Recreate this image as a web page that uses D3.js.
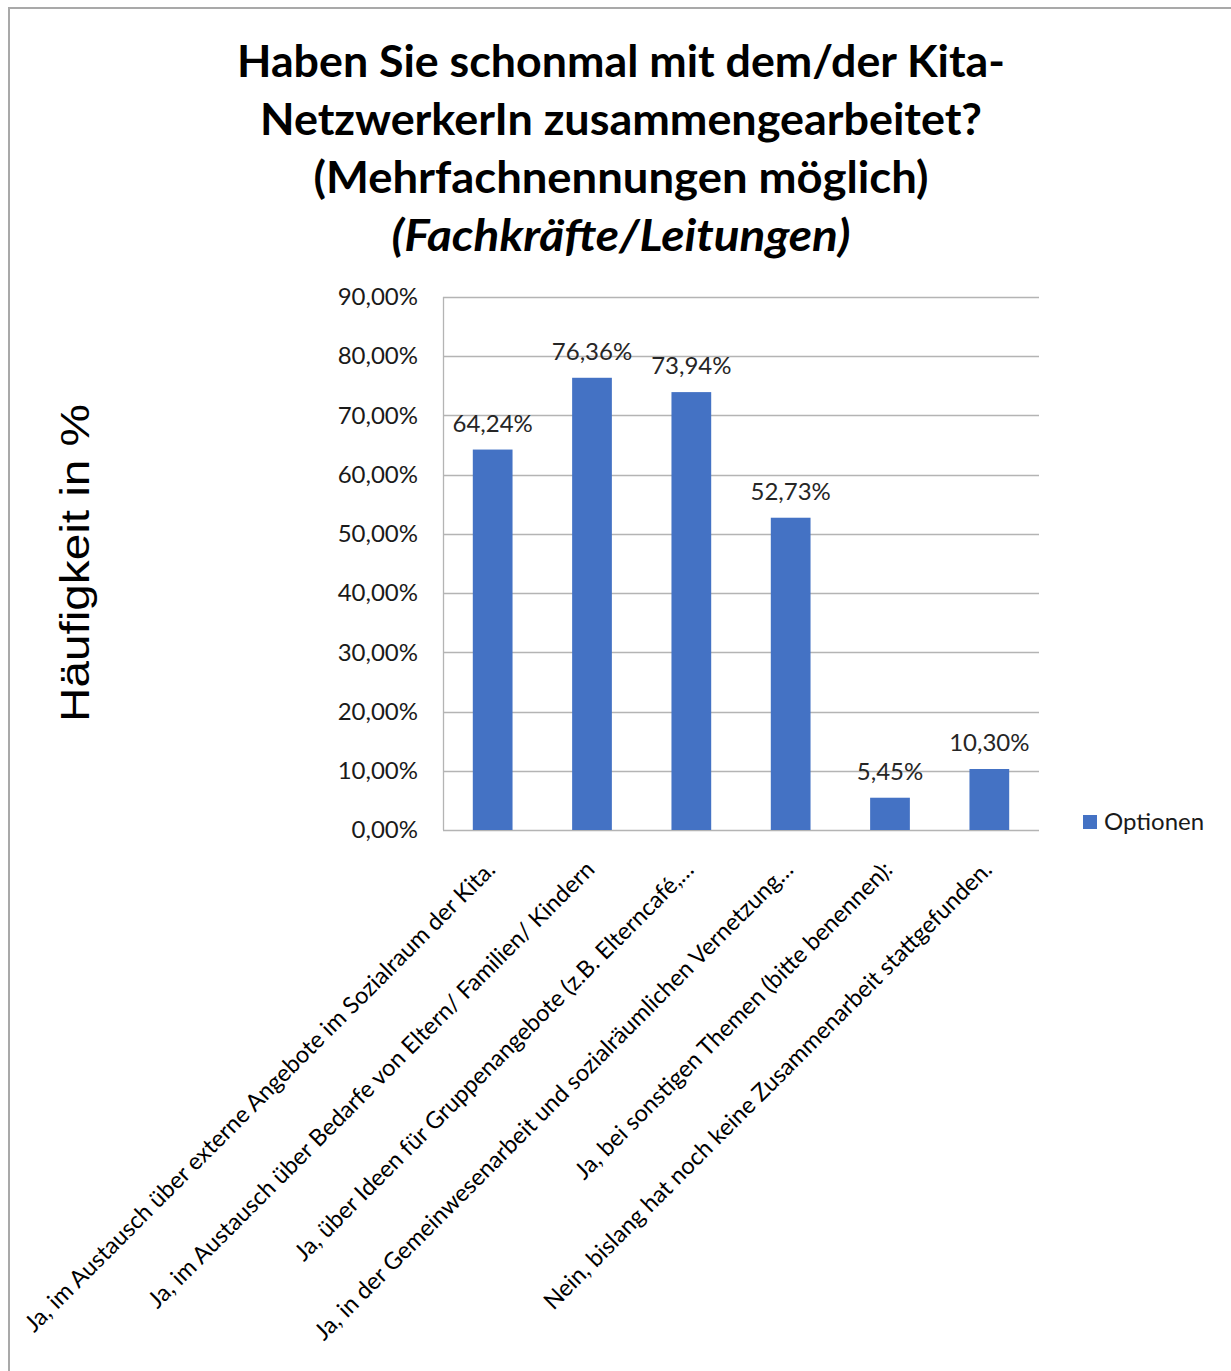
<!DOCTYPE html>
<html>
<head>
<meta charset="utf-8">
<script src="https://cdn.jsdelivr.net/npm/d3@7"></script>
<style>
  html, body { margin: 0; padding: 0; background: #fff; }
  svg { display: block; }
</style>
</head>
<body>
<div id="chart"></div>
<script>
// ---- data ----
const titleLines = [
  "Haben Sie schonmal mit dem/der Kita-",
  "NetzwerkerIn zusammengearbeitet?",
  "(Mehrfachnennungen möglich)",
  "(Fachkräfte/Leitungen)"
];
const categories = [
  "Ja, im Austausch über externe Angebote im Sozialraum der Kita.",
  "Ja, im Austausch über Bedarfe von Eltern/ Familien/ Kindern",
  "Ja, über Ideen für Gruppenangebote (z.B. Elterncafé,…",
  "Ja, in der Gemeinwesenarbeit und sozialräumlichen Vernetzung…",
  "Ja, bei sonstigen Themen (bitte benennen):",
  "Nein, bislang hat noch keine Zusammenarbeit stattgefunden."
];
const values = [0.6424, 0.7636, 0.7394, 0.5273, 0.0545, 0.1030];
const yTicks = [0, 0.1, 0.2, 0.3, 0.4, 0.5, 0.6, 0.7, 0.8, 0.9];
const seriesName = "Optionen";
const yAxisTitle = "Häufigkeit in %";

// ---- layout ----
const W = 1231, H = 1371;
const plot = { left: 443, right: 1039, top: 297, bottom: 830 };
const barColor = "#4472C4";
const font = "Lato, 'Open Sans', sans-serif";
const fmt = v => (v * 100).toFixed(2).replace(".", ",") + "%";

const svg = d3.select("#chart").append("svg")
  .attr("width", W).attr("height", H);

// frame
svg.append("rect")
  .attr("x", 9).attr("y", 8).attr("width", W + 20).attr("height", H + 20)
  .attr("fill", "#fff").attr("stroke", "#a9a9a9").attr("stroke-width", 2);

// title
const title = svg.append("g").attr("font-family", font).attr("font-weight", 700)
  .attr("fill", "#000").attr("text-anchor", "middle");
const titleBaselines = [77, 135, 193, 251];
const titleWidths = [768, 722, 615, 459];
titleLines.forEach((t, i) => {
  title.append("text")
    .attr("x", 621).attr("y", titleBaselines[i])
    .attr("font-size", 44)
    .attr("font-style", i === 3 ? "italic" : "normal")
    .attr("textLength", titleWidths[i]).attr("lengthAdjust", "spacingAndGlyphs")
    .text(t);
});

// scales
const x = d3.scaleBand().domain(categories)
  .range([plot.left, plot.right]).paddingInner(0.6).paddingOuter(0.3);
const y = d3.scaleLinear().domain([0, 0.9]).range([plot.bottom, plot.top]);

// gridlines
svg.append("g").selectAll("line").data(yTicks).join("line")
  .attr("x1", plot.left).attr("x2", plot.right)
  .attr("y1", d => Math.round(y(d)) + 0.5).attr("y2", d => Math.round(y(d)) + 0.5)
  .attr("stroke", "#b4b4b4").attr("stroke-width", 1.3);

// left axis line
svg.append("line")
  .attr("x1", plot.left + 0.5).attr("x2", plot.left + 0.5)
  .attr("y1", plot.top).attr("y2", plot.bottom)
  .attr("stroke", "#b4b4b4").attr("stroke-width", 1.3);

// y axis via d3.axisLeft
const yAxis = svg.append("g")
  .attr("transform", `translate(${plot.left},0)`)
  .call(d3.axisLeft(y).tickValues(yTicks).tickFormat(fmt).tickSize(0).tickPadding(25));
yAxis.select(".domain").remove();
yAxis.selectAll("text")
  .attr("font-family", font).attr("font-size", 24).attr("fill", "#1a1a1a");

// bars
svg.append("g").selectAll("rect").data(values).join("rect")
  .attr("x", (d, i) => x(categories[i]))
  .attr("width", x.bandwidth())
  .attr("y", d => y(d))
  .attr("height", d => y(0) - y(d))
  .attr("fill", barColor);

// data labels
svg.append("g").selectAll("text").data(values).join("text")
  .attr("x", (d, i) => x(categories[i]) + x.bandwidth() / 2)
  .attr("y", d => y(d) - 18)
  .attr("text-anchor", "middle")
  .attr("font-family", font).attr("font-size", 24).attr("fill", "#262626")
  .text(fmt);

// x axis labels
const xl = svg.append("g");
xl.selectAll("text").data(categories).join("text")
  .attr("transform", d => `translate(${x(d) + x.bandwidth() / 2 + 4},871) rotate(-45)`)
  .attr("text-anchor", "end")
  .attr("font-family", font).attr("font-size", 23.5).attr("fill", "#000")
  .text(d => d);

// y axis title
svg.append("text")
  .attr("transform", "translate(89,563) rotate(-90)")
  .attr("text-anchor", "middle")
  .attr("font-family", "'Liberation Sans', Arial, sans-serif")
  .attr("font-size", 40)
  .attr("textLength", 318).attr("lengthAdjust", "spacingAndGlyphs")
  .attr("fill", "#000")
  .text(yAxisTitle);

// legend
const lg = svg.append("g").attr("transform", "translate(1083,815)");
lg.append("rect").attr("width", 14).attr("height", 14).attr("fill", barColor);
lg.append("text").attr("x", 21).attr("y", 15)
  .attr("font-family", font).attr("font-size", 24).attr("fill", "#1a1a1a")
  .text(seriesName);
</script>
</body>
</html>
